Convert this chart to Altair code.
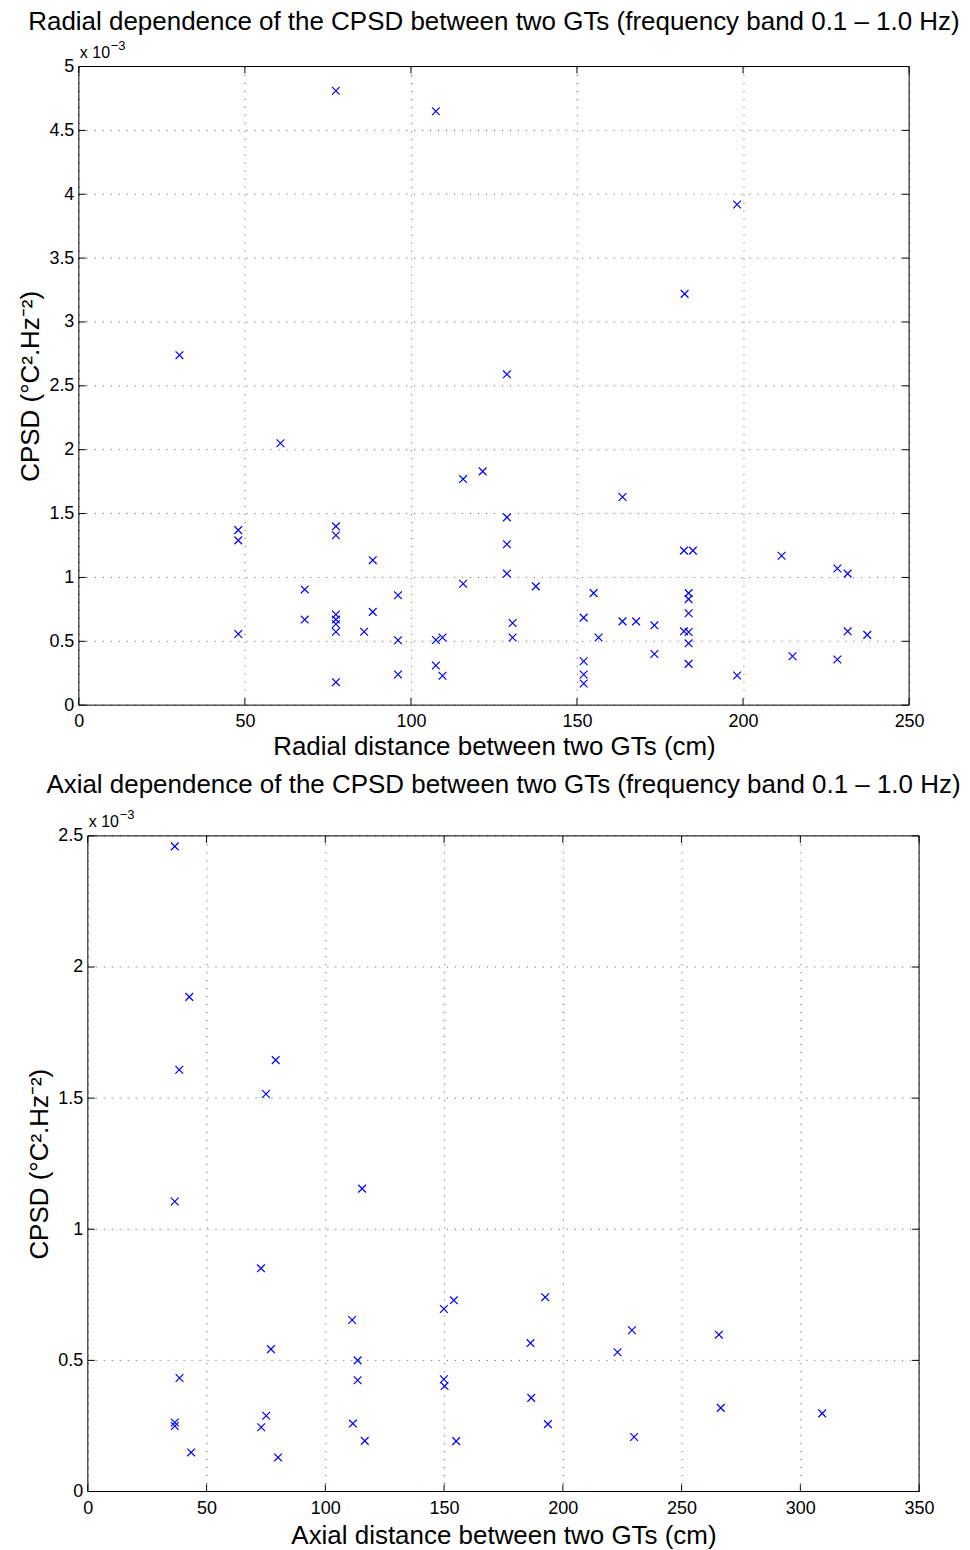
import altair as alt
import pandas as pd

FONT = "Liberation Sans"
BLUE = "#0000FF"
X_MARK = "M-1,-1L1,1M-1,1L1,-1"

# ---- Radial panel data (CPSD in units of 1e-3 degC^2/Hz^2) ----
radial_distance = [30.3, 48, 48, 48, 60.7, 68, 68, 77.4, 77.4, 77.4, 77.4, 77.4, 77.4, 77.4, 77.4,
                   85.9, 88.5, 88.5, 96.1, 96.1, 96.1, 107.5, 107.5, 107.5, 109.5, 109.5, 115.7, 115.7,
                   121.6, 128.9, 128.9, 128.9, 128.9, 130.6, 130.6, 137.6, 152, 152, 152, 152, 155,
                   156.5, 163.7, 163.7, 167.8, 173.3, 173.3, 182.4, 182.2, 184.9, 183.6, 183.6, 183.6,
                   182.2, 183.6, 183.6, 183.6, 198.2, 198.2, 211.6, 214.9, 228.4, 228.4, 231.5, 231.5,
                   237.4]
radial_cpsd = [2.74, 1.37, 1.29, 0.557, 2.05, 0.906, 0.67, 4.81, 1.40, 1.33, 0.71, 0.67, 0.635, 0.575,
               0.18, 0.575, 1.135, 0.73, 0.86, 0.508, 0.24, 4.65, 0.51, 0.31, 0.53, 0.23, 1.77, 0.95,
               1.83, 2.59, 1.47, 1.26, 1.03, 0.643, 0.53, 0.93, 0.685, 0.344, 0.24, 0.17, 0.877,
               0.53, 1.63, 0.656, 0.656, 0.625, 0.40, 3.22, 1.21, 1.21, 0.877, 0.83, 0.72,
               0.578, 0.573, 0.484, 0.323, 3.92, 0.232, 1.17, 0.383, 1.07, 0.357, 1.03, 0.578,
               0.55]

# ---- Axial panel data ----
axial_distance = [36.6, 42.7, 38.5, 79.1, 75.0, 36.6, 115.5, 72.9, 149.9, 154.1, 111.3, 77.1,
                  113.6, 113.6, 38.6, 149.9, 150.2, 36.6, 36.6, 75.1, 73.0, 111.6, 116.6, 155.1,
                  43.5, 80.1, 192.6, 186.4, 229.1, 223.0, 265.7, 186.7, 193.7, 230.0, 266.5, 309.2]
axial_cpsd = [2.46, 1.886, 1.608, 1.645, 1.516, 1.106, 1.155, 0.851, 0.696, 0.729, 0.654, 0.543,
              0.50, 0.424, 0.433, 0.428, 0.402, 0.263, 0.25, 0.289, 0.245, 0.259, 0.193, 0.192,
              0.149, 0.13, 0.741, 0.566, 0.615, 0.531, 0.598, 0.357, 0.257, 0.208, 0.319, 0.298]

radial_xticks = [0, 50, 100, 150, 200, 250]
radial_yticks = [0, 0.5, 1, 1.5, 2, 2.5, 3, 3.5, 4, 4.5, 5]
axial_xticks = [0, 50, 100, 150, 200, 250, 300, 350]
axial_yticks = [0, 0.5, 1, 1.5, 2, 2.5]

title_radial = "Radial dependence of the CPSD between two GTs (frequency band 0.1 \u2013 1.0 Hz)"
title_axial = "Axial dependence of the CPSD between two GTs (frequency band 0.1 \u2013 1.0 Hz)"
xlabel_radial = "Radial distance between two GTs (cm)"
xlabel_axial = "Axial distance between two GTs (cm)"
ylabel = "CPSD (\u00b0C\u00b2.Hz\u207b\u00b2)"
mult_base = "x 10"
mult_exp = "\u22123"

GRID_DASH = [1, 7]
GRID_COLOR = "#555555"


def panel(xs, ys, xticks, yticks, w, h, xtitle, title, title_offset, shift=0, xlabel_pad=6,
          xtitle_pad=3):
    """Plot frame spans pixels [shift, shift + w] of a view that is w + shift wide."""
    pts = pd.DataFrame({"d": xs, "c": ys})
    xt = pd.DataFrame({"d": xticks})
    yt = pd.DataFrame({"c": yticks})
    xscale = alt.Scale(domain=[xticks[0], xticks[-1]], range=[shift, shift + w], nice=False, zero=True)
    yscale = alt.Scale(domain=[yticks[0], yticks[-1]], nice=False, zero=True)
    xaxis = alt.Axis(values=xticks, format="d", title=xtitle, labelFlush=False,
                     labelPadding=xlabel_pad, titlePadding=xtitle_pad)
    yaxis = alt.Axis(values=yticks, format="~g", title=ylabel, labelFlush=False,
                     grid=False, offset=-shift)
    X = alt.X("d:Q", scale=xscale, axis=xaxis)
    Y = alt.Y("c:Q", scale=yscale, axis=yaxis)
    x0, x1 = shift, shift + w

    def rule(df, **enc):
        return alt.Chart(df).mark_rule(color="black", strokeWidth=1).encode(**enc)

    one = pd.DataFrame({"k": [0]})
    # dotted horizontal grid lines (vertical ones come from the x axis)
    ygrid = alt.Chart(yt).mark_rule(color=GRID_COLOR, strokeWidth=1, strokeDash=GRID_DASH).encode(
        y=Y, x=alt.value(x0), x2=alt.value(x1))
    points = alt.Chart(pts).mark_point(
        shape=X_MARK, filled=False, color=BLUE, size=60, strokeWidth=1.2, opacity=1
    ).encode(x=X, y=Y)
    tl = 7
    layers = [
        ygrid,
        # axes box
        rule(one, x=alt.value(x0), x2=alt.value(x1), y=alt.value(0)),
        rule(one, x=alt.value(x0), x2=alt.value(x1), y=alt.value(h)),
        rule(one, x=alt.value(x0), y=alt.value(0), y2=alt.value(h)),
        rule(one, x=alt.value(x1), y=alt.value(0), y2=alt.value(h)),
        # inward ticks
        rule(xt, x=X, y=alt.value(h), y2=alt.value(h - tl)),
        rule(xt, x=X, y=alt.value(0), y2=alt.value(tl)),
        rule(yt, y=Y, x=alt.value(x0), x2=alt.value(x0 + tl)),
        rule(yt, y=Y, x=alt.value(x1), x2=alt.value(x1 - tl)),
        points,
        alt.Chart(pd.DataFrame({"t": [mult_base]})).mark_text(
            align="left", baseline="alphabetic", fontSize=16, font=FONT, color="black"
        ).encode(text="t:N", x=alt.value(x0 + 1), y=alt.value(-9)),
        alt.Chart(pd.DataFrame({"t": [mult_exp]})).mark_text(
            align="left", baseline="alphabetic", fontSize=13, font=FONT, color="black"
        ).encode(text="t:N", x=alt.value(x0 + 32), y=alt.value(-17)),
    ]
    title_params = dict(fontSize=26, font=FONT, fontWeight="normal", color="black",
                        anchor="middle", frame="group", offset=title_offset)
    if shift:
        title_params["dx"] = shift / 2
    return alt.layer(*layers).properties(
        width=w + shift, height=h,
        title=alt.TitleParams(title, **title_params),
        view=alt.ViewBackground(stroke="transparent"),
    )


top = panel(radial_distance, radial_cpsd, radial_xticks, radial_yticks, 832, 640,
            xlabel_radial, title_radial, 5, xlabel_pad=7, xtitle_pad=3)
bottom = panel(axial_distance, axial_cpsd, axial_xticks, axial_yticks, 833, 657,
               xlabel_axial, title_axial, 11, shift=9, xlabel_pad=8, xtitle_pad=5)

chart = alt.concat(top, bottom, columns=1, spacing=11, align="none").properties(
    padding={"left": 9, "top": -2, "right": 0, "bottom": 0}
).configure_view(
    stroke="transparent"
).configure_axis(
    grid=True, gridDash=GRID_DASH, gridColor=GRID_COLOR, gridWidth=1, gridOpacity=1,
    domain=False, ticks=False,
    labelFont=FONT, labelFontSize=18, labelColor="black",
    titleFont=FONT, titleFontSize=26, titleFontWeight="normal", titleColor="black",
).configure_axisY(
    labelPadding=5, titlePadding=5,
)

chart.save("out.html", embed_options={"renderer": "svg", "actions": False})
